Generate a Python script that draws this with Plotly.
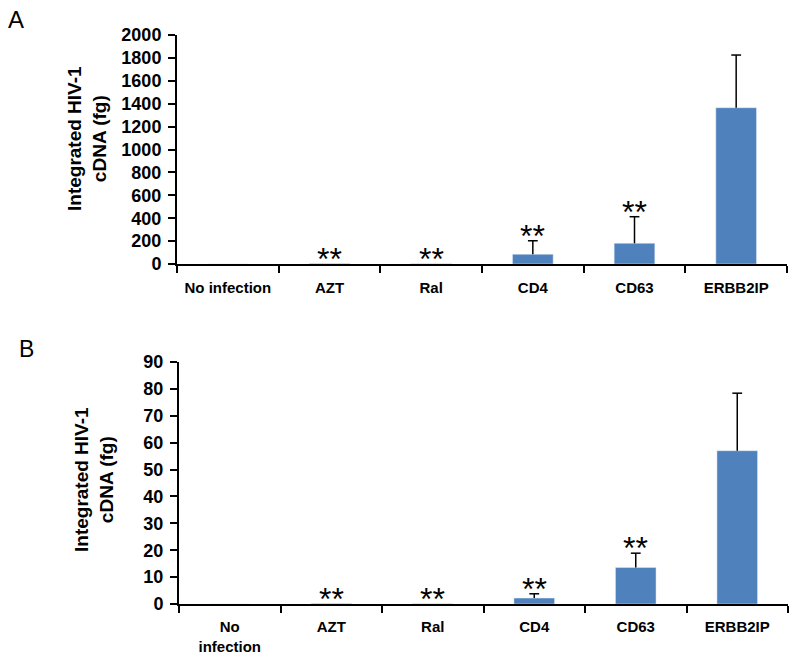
import plotly.graph_objects as go

categories = ["No infection", "AZT", "Ral", "CD4", "CD63", "ERBB2IP"]
tick_labels_a = ["No infection", "AZT", "Ral", "CD4", "CD63", "ERBB2IP"]
tick_labels_b = ["No<br>infection", "AZT", "Ral", "CD4", "CD63", "ERBB2IP"]

values_a = [0, 4, 3, 85, 181, 1365]
errors_a = [0, 0, 0, 118, 232, 460]
values_b = [0, 0.15, 0.1, 2.2, 13.6, 57.0]
errors_b = [0, 0, 0, 1.6, 5.3, 21.4]
stars_a = ["", "**", "**", "**", "**", ""]
stars_b = ["", "**", "**", "**", "**", ""]

BAR = "#4F81BD"
FONT = "Liberation Sans"

fig = go.Figure()
for vals, errs, xa, ya in [(values_a, errors_a, "x", "y"), (values_b, errors_b, "x2", "y2")]:
    fig.add_trace(go.Bar(x=categories, y=vals, marker_color=BAR, width=0.4,
                         error_y=dict(type="data", array=errs, arrayminus=[0]*len(errs), symmetric=False,
                                      color="black", thickness=1.5, width=0),
                         xaxis=xa, yaxis=ya, showlegend=False, hoverinfo="skip"))
    # error-bar caps (top only)
    cap_y = [v + e if e > 0 else None for v, e in zip(vals, errs)]
    fig.add_trace(go.Scatter(x=categories, y=cap_y, mode="markers",
                             marker=dict(symbol="line-ew", size=7, line=dict(width=1.5, color="black")),
                             xaxis=xa, yaxis=ya, showlegend=False, hoverinfo="skip"))

annotations = []
for c, v, e, s in zip(categories, values_a, errors_a, stars_a):
    if s:
        annotations.append(dict(x=c, y=v + e, xref="x", yref="y", text=s, showarrow=False,
                                xanchor="center", yanchor="middle", yshift=5,
                                font=dict(family=FONT, size=32, color="black")))
for c, v, e, s in zip(categories, values_b, errors_b, stars_b):
    if s:
        annotations.append(dict(x=c, y=v + e, xref="x2", yref="y2", text=s, showarrow=False,
                                xanchor="center", yanchor="middle", yshift=5,
                                font=dict(family=FONT, size=32, color="black")))

title_text = "<b>Integrated HIV-1<br>cDNA (fg)</b>"
annotations.append(dict(x=87/800, y=1-139/667, xref="paper", yref="paper", text=title_text,
                        textangle=-90, showarrow=False, xanchor="center", yanchor="middle",
                        font=dict(family=FONT, size=19, color="black")))
annotations.append(dict(x=94/800, y=1-480/667, xref="paper", yref="paper", text=title_text,
                        textangle=-90, showarrow=False, xanchor="center", yanchor="middle",
                        font=dict(family=FONT, size=19, color="black")))
annotations.append(dict(x=6/800, y=1-4/667, xref="paper", yref="paper", text="A", xanchor="left",
                        yanchor="top", showarrow=False, font=dict(family=FONT, size=24, color="black")))
annotations.append(dict(x=17/800, y=1-334/667, xref="paper", yref="paper", text="B", xanchor="left",
                        yanchor="top", showarrow=False, font=dict(family=FONT, size=23, color="black")))

xcommon = dict(type="category", showline=True, linecolor="black", linewidth=2, ticks="outside",
               tickson="boundaries", ticklen=7, tickwidth=2, tickcolor="black", showgrid=False,
               zeroline=False, tickangle=0, automargin=False,
               tickfont=dict(family=FONT, size=15, color="black"))
ycommon = dict(showline=True, linecolor="black", linewidth=2, ticks="outside", ticklen=7,
               tickwidth=2, tickcolor="black", showgrid=False, zeroline=False, automargin=False,
               tickfont=dict(family=FONT, size=18, color="black"))

fig.update_layout(
    width=800, height=667, margin=dict(l=0, r=0, t=0, b=0),
    paper_bgcolor="white", plot_bgcolor="white",
    font=dict(family=FONT, color="black"),
    xaxis=dict(**xcommon, domain=[177/800, 787/800], anchor="y",
               tickvals=categories, ticktext=[f"<b>{t}</b>" for t in tick_labels_a],
               ticklabelstandoff=9),
    yaxis=dict(**ycommon, domain=[1-264/667, 1-35/667], anchor="x", range=[0, 2000], dtick=200,
               tickformat="d", ticklabelstandoff=3, tickprefix="<b>", ticksuffix="</b>"),
    xaxis2=dict(**xcommon, domain=[179/800, 788/800], anchor="y2",
                tickvals=categories, ticktext=[f"<b>{t}</b>" for t in tick_labels_b],
                ticklabelstandoff=8),
    yaxis2=dict(**ycommon, domain=[1-604/667, 1-362/667], anchor="x2", range=[0, 90], dtick=10,
                ticklabelstandoff=3, tickprefix="<b>", ticksuffix="</b>"),
    annotations=annotations,
    bargap=0.6,
)

fig.write_html("out.html", config={"displayModeBar": False},
               post_script="document.body.style.margin='0';document.body.style.overflow='hidden';")
